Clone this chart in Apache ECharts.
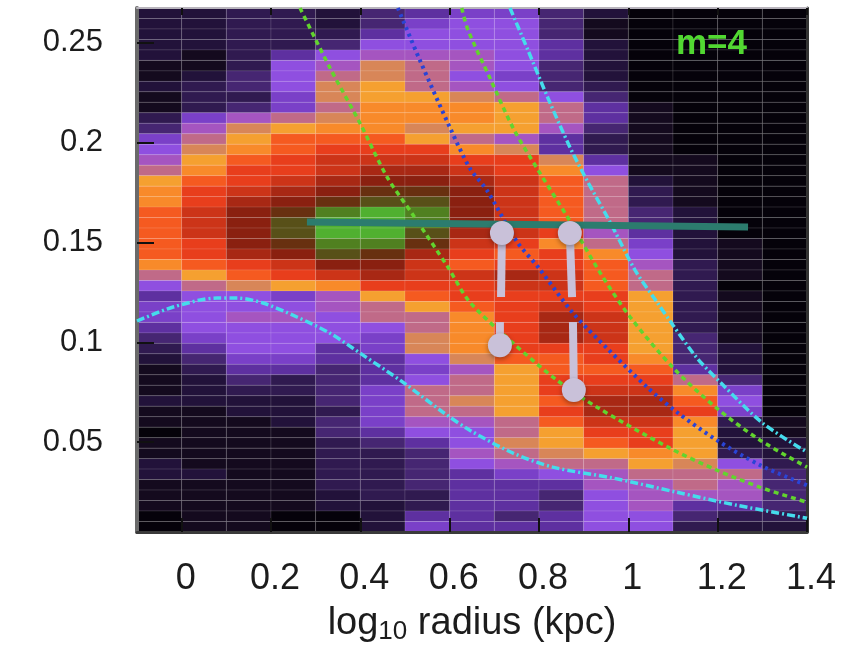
<!DOCTYPE html>
<html><head><meta charset="utf-8">
<style>html,body{margin:0;padding:0;background:#fff}#c{width:858px;height:645px;filter:blur(0.6px)}</style>
<script src="https://cdn.jsdelivr.net/npm/echarts@6/dist/echarts.min.js"></script>
</head><body><div id="c"></div>
<script>
const xTicks=[0,0.2,0.4,0.6,0.8,1,1.2,1.4];
const yTicks=[0.05,0.1,0.15,0.2,0.25];
const colStarts=[-0.1,0,0.1,0.2,0.3,0.4,0.5,0.6,0.7,0.8,0.9,1,1.1,1.2,1.3];
const rowTop=0.2675, rowHeight=0.00525;
const palette=['#05020a','#140a1e','#22123a','#301a50','#462672','#5e30a0','#7a40c8','#8f4fe0','#a555c0','#c06a88','#d88658','#f5a030','#f88a2a','#f55a20','#e83e1c','#cc3418','#a82814','#8a2010','#683010','#585018','#508020','#50b030'];
// intensity level per column, top row first
const col0=[2,2,2,2,2,1,1,2,1,1,3,4,6,7,8,9,11,12,12,13,13,13,13,13,12,9,7,5,6,6,5,4,3,2,1,1,1,2,1,1,0,1,1,2,2,1,1,1,0,0];
const col1=[2,2,2,2,1,1,2,3,3,3,6,8,9,10,11,12,13,14,14,15,15,15,14,14,13,11,9,7,7,7,7,6,5,4,3,2,2,2,1,1,1,1,1,1,2,1,1,1,1,1];
const col2=[3,3,3,3,3,3,4,4,3,4,8,10,11,12,13,14,14,15,16,17,17,17,17,16,14,13,10,7,7,8,7,7,7,6,5,4,3,2,2,1,1,1,1,1,1,1,1,1,1,1];
const col3=[3,3,3,3,5,7,7,7,6,6,9,11,13,13,14,14,15,16,17,18,19,19,18,17,15,14,11,6,7,8,7,7,7,6,5,3,3,2,2,2,1,1,1,1,1,1,1,1,0,0];
const col4=[2,2,3,4,7,8,9,10,10,9,10,12,13,14,15,15,16,17,18,20,21,21,20,19,17,15,12,8,8,7,7,7,5,5,4,4,4,4,3,4,4,3,3,3,3,3,2,2,0,0];
const col5=[4,4,5,7,8,10,10,11,11,12,12,12,13,14,15,16,17,18,19,21,21,21,20,18,17,16,14,11,9,9,7,6,6,5,5,5,6,6,6,6,5,4,3,3,3,3,3,2,2,2];
const col6=[5,6,7,7,8,9,9,9,11,12,12,10,11,14,15,16,17,18,19,20,20,19,18,16,15,15,14,13,11,9,9,10,10,7,6,7,9,9,9,8,7,5,4,4,4,4,3,3,5,6];
const col7=[6,7,7,7,8,8,7,8,10,12,12,11,9,12,14,15,16,17,17,17,17,16,15,14,13,15,14,14,13,12,12,12,12,10,8,9,9,10,9,8,7,7,8,7,5,5,5,5,5,5];
const col8=[6,7,7,7,7,7,6,7,9,11,11,11,8,10,14,14,15,15,15,15,15,15,14,13,14,16,15,14,14,14,14,14,14,13,11,11,11,11,11,9,9,10,9,8,6,5,5,5,4,5];
const col9=[4,4,4,5,5,4,4,4,7,9,9,8,5,5,10,12,13,13,13,13,13,14,12,14,14,15,15,14,15,16,16,16,14,13,13,14,14,13,14,13,11,11,10,9,7,5,4,4,5,5];
const col10=[2,1,1,2,2,2,2,3,4,5,5,4,3,3,5,7,9,9,9,9,9,8,9,12,13,13,13,14,14,15,15,15,14,14,13,14,15,16,16,15,14,13,11,9,8,8,7,7,7,7];
const col11=[0,0,0,0,0,0,0,0,0,1,1,1,1,1,1,1,2,3,3,4,4,5,6,7,8,9,9,11,11,11,11,11,11,12,13,14,15,16,16,15,14,14,12,11,9,8,8,8,7,7];
const col12=[0,0,0,0,0,0,0,0,0,0,0,0,0,0,1,1,1,1,1,2,2,2,2,2,3,3,3,3,3,3,3,4,4,4,5,9,12,13,14,12,11,11,11,10,9,9,8,5,4,3];
const col13=[0,0,0,0,0,0,0,0,0,0,0,0,0,0,0,0,0,0,0,0,0,0,1,1,1,1,0,1,1,1,1,1,2,2,2,4,6,7,6,3,2,2,3,7,9,8,8,5,3,2];
const col14=[0,0,0,0,0,0,0,0,0,0,0,0,0,0,0,0,0,0,0,0,0,0,0,0,0,0,0,0,0,0,0,0,0,0,0,0,0,0,0,1,1,2,2,3,4,4,4,4,3,2];
const columns=[col0,col1,col2,col3,col4,col5,col6,col7,col8,col9,col10,col11,col12,col13,col14];
// overlay curves [log radius, y]
const greenLeft=[[0.265,0.2675],[0.332,0.2375],[0.399,0.2099],[0.46,0.1828],[0.518,0.1638],[0.596,0.1377],[0.645,0.1202],[0.742,0.0996],[0.84,0.0811],[0.93,0.0675],[1.093,0.047],[1.198,0.036],[1.295,0.0274],[1.4,0.0199]];
const greenRight=[[0.627,0.2675],[0.641,0.2565],[0.69,0.2325],[0.742,0.2074],[0.798,0.1863],[0.865,0.1623],[0.936,0.1352],[1.004,0.1127],[1.101,0.0871],[1.198,0.067],[1.295,0.051],[1.4,0.0375]];
const blueMid=[[0.484,0.2675],[0.533,0.2415],[0.601,0.2074],[0.645,0.1873],[0.683,0.1763],[0.751,0.1503],[0.798,0.1377],[0.876,0.1147],[0.952,0.0971],[1.042,0.0776],[1.109,0.065],[1.198,0.051],[1.295,0.0385],[1.4,0.0284]];
const cyanRight=[[0.735,0.2675],[0.775,0.2465],[0.82,0.2224],[0.869,0.1979],[0.907,0.1813],[0.959,0.1603],[1.015,0.1362],[1.064,0.1202],[1.1,0.1086],[1.154,0.0921],[1.212,0.0786],[1.301,0.0595],[1.4,0.045]];
const cyanLow=[[-0.1,0.1107],[-0.019,0.1177],[0.079,0.1222],[0.124,0.1222],[0.182,0.1197],[0.258,0.1127],[0.332,0.1046],[0.406,0.0936],[0.495,0.0801],[0.585,0.065],[0.645,0.056],[0.742,0.0445],[0.831,0.0375],[0.966,0.032],[1.109,0.0249],[1.243,0.0184],[1.4,0.0119]];
const tealLine=[[0.2805,0.1603],[1.268,0.1578]];
const stemA1=[[0.717,0.1548],[0.715,0.1227]];
const stemA2=[[0.7125,0.1102],[0.7125,0.0986]];
const stemB1=[[0.869,0.1548],[0.874,0.1227]];
const stemB2=[[0.876,0.1102],[0.878,0.0761]];
const knobs=[[0.717,0.1548],[0.7125,0.0986],[0.869,0.1548],[0.878,0.0761]];

const cells=[];
columns.forEach((c,i)=>c.forEach((lv,r)=>cells.push([colStarts[i],rowTop-r*rowHeight,lv])));
const curve=(data,color,type,w)=>({type:'line',data,smooth:0.3,symbol:'none',z:5,silent:true,
  lineStyle:{color,width:w||3.5,type,cap:'butt'}});
const stem=(data)=>({type:'line',data,symbol:'none',z:7,silent:true,lineStyle:{color:'#c9c1d9',width:8,cap:'butt'}});
const font='"Liberation Sans",Arial,sans-serif';
const chart=echarts.init(document.getElementById('c'),null,{renderer:'canvas'});
chart.setOption({
  animation:false,backgroundColor:'#fff',
  grid:{left:137,top:8,width:670,height:524,outerBoundsMode:'none'},
  xAxis:[
   {type:'value',min:-0.1,max:1.4,z:4,splitLine:{show:false},
    axisLine:{show:true,onZero:false,lineStyle:{color:'#3a3a3a',width:3}},
    axisTick:{show:true,inside:true,length:14,customValues:xTicks,lineStyle:{color:'#111',width:2}},
    axisLabel:{customValues:xTicks,margin:29,fontSize:36,padding:[0,0,0,8],fontFamily:font,color:'#1c1c1c',formatter:v=>String(v)},
    name:'log{s|10} radius (kpc)',nameLocation:'middle',nameGap:71,
    nameTextStyle:{fontSize:38,fontFamily:font,color:'#1c1c1c',rich:{s:{fontSize:26,fontFamily:font,color:'#1c1c1c',verticalAlign:'bottom',padding:[16,0,0,0]}}}},
   {type:'value',position:'top',min:-0.1,max:1.4,z:4,splitLine:{show:false},
    axisLine:{show:true,onZero:false,lineStyle:{color:'#b8b4bc',width:2}},
    axisTick:{show:true,inside:true,length:7,customValues:xTicks,lineStyle:{color:'#111',width:2}},
    axisLabel:{show:false}}
  ],
  yAxis:[
   {type:'value',min:0.005,max:0.2675,z:4,splitLine:{show:false},
    axisLine:{show:true,onZero:false,lineStyle:{color:'#6a6a6a',width:4}},
    axisTick:{show:true,inside:true,length:17,customValues:yTicks,lineStyle:{color:'#111',width:2}},
    axisLabel:{customValues:yTicks,margin:34,fontSize:31,padding:[4,0,0,0],fontFamily:font,color:'#1c1c1c',formatter:v=>String(v)}},
   {type:'value',position:'right',min:0.005,max:0.2675,z:4,splitLine:{show:false},
    axisLine:{show:true,onZero:false,lineStyle:{color:'#333',width:3}},axisTick:{show:false},axisLabel:{show:false}}
  ],
  series:[
   {type:'custom',z:2,silent:true,clip:true,data:cells,encode:{x:0,y:1},
    renderItem:(p,api)=>{
      const x0=api.value(0),yTop=api.value(1),a=api.coord([x0,yTop]),b=api.coord([x0+0.1,yTop-rowHeight]);
      return {type:'rect',shape:{x:a[0],y:a[1],width:b[0]-a[0],height:b[1]-a[1]},
        style:{fill:palette[api.value(2)],stroke:'rgba(255,255,255,0.11)',lineWidth:1}};
    }},
   curve(greenLeft,'#62d42e',[5,4]),
   curve(greenRight,'#62d42e',[5,4]),
   curve(blueMid,'#2a44d6',[3,4],4),
   curve(cyanRight,'#45dcec',[8,3,2,3]),
   curve(cyanLow,'#45dcec',[8,3,2,3]),
   {type:'line',data:tealLine,symbol:'none',z:6,silent:true,lineStyle:{color:'#2c7c6e',width:7,cap:'butt'}},
   stem(stemA1),stem(stemA2),stem(stemB1),stem(stemB2),
   {type:'scatter',data:knobs,symbol:'circle',symbolSize:24,z:8,silent:true,
    itemStyle:{color:'#c9c1d9',opacity:1,shadowColor:'rgba(0,0,0,0.35)',shadowBlur:5,shadowOffsetY:2}}
  ],
  graphic:[{type:'text',left:676,top:27,z:20,silent:true,
    style:{text:'m=4',fill:'#52d832',font:'bold 35px '+font}}]
});
</script></body></html>
